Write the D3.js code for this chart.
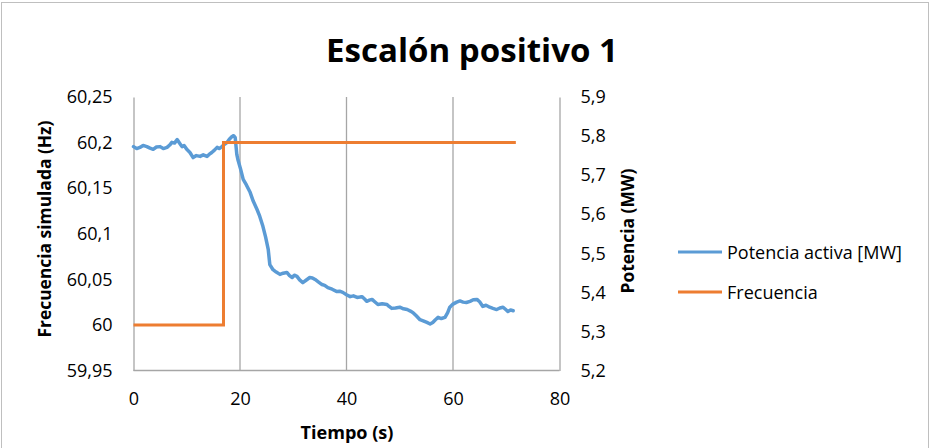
<!DOCTYPE html>
<html>
<head>
<meta charset="utf-8">
<script src="https://cdn.jsdelivr.net/npm/d3@7"></script>
<style>
  html, body { margin: 0; padding: 0; background: #fff; }
  svg { display: block; font-family: "Open Sans", "Noto Sans", sans-serif; }
</style>
</head>
<body>
<svg id="chart" width="931" height="448"></svg>
<script>
// ---- Data ----
const titleText = "Escalón positivo 1";
const xTicks = [0, 20, 40, 60, 80];
const freqTicks = [59.95, 60, 60.05, 60.1, 60.15, 60.2, 60.25];
const powerTicks = [5.2, 5.3, 5.4, 5.5, 5.6, 5.7, 5.8, 5.9];
const seriesNames = ["Potencia activa [MW]", "Frecuencia"];

// Frecuencia (Hz), left axis
const freqTime = [0, 16.9, 16.9, 71.8];
const freqValue = [60, 60, 60.2, 60.2];

// Potencia activa (MW), right axis
const powerTime = [0,0.6,1.2,1.8,2.5,3.1,3.7,4.3,5.0,5.6,6.3,6.8,7.2,7.7,8.2,8.6,9.1,9.5,10.0,10.6,
  11.2,11.8,12.5,13.1,13.8,14.2,14.7,15.2,15.7,16.1,16.6,17.1,17.6,18.0,18.5,18.8,19.1,19.4,19.6,20.1,
  20.6,21.2,21.9,22.5,23.2,23.7,24.3,24.8,25.3,25.6,26.2,26.8,27.5,28.1,28.8,29.3,29.8,30.2,30.7,31.2,
  31.8,32.4,33.1,33.6,34.1,34.7,35.4,35.9,36.5,37.3,38.2,38.7,39.3,40.0,40.7,41.3,42.0,42.5,42.9,43.4,
  43.8,44.3,44.8,45.3,45.9,46.7,47.6,48.0,48.5,49.2,50.0,50.7,51.4,52.0,52.5,53.1,53.8,54.4,55.1,55.7,
  56.2,56.7,57.2,57.8,58.5,59.0,59.4,60.0,60.7,61.3,61.9,62.5,63.2,63.8,64.5,65.0,65.6,66.2,66.9,67.5,
  68.2,68.8,69.4,69.9,70.3,70.8,71.3];
const powerValue = [5.773,5.768,5.771,5.776,5.773,5.769,5.766,5.772,5.773,5.768,5.771,5.777,5.784,5.782,5.791,5.783,5.773,5.776,5.766,5.758,
  5.745,5.750,5.748,5.752,5.748,5.753,5.758,5.764,5.771,5.768,5.773,5.779,5.784,5.792,5.799,5.801,5.796,5.753,5.740,5.716,
  5.689,5.675,5.656,5.633,5.612,5.595,5.569,5.542,5.510,5.471,5.458,5.452,5.446,5.449,5.451,5.443,5.438,5.444,5.441,5.432,
  5.425,5.431,5.438,5.437,5.433,5.427,5.420,5.418,5.412,5.408,5.402,5.403,5.400,5.394,5.389,5.391,5.387,5.388,5.389,5.383,
  5.377,5.380,5.382,5.376,5.369,5.371,5.369,5.364,5.359,5.360,5.362,5.358,5.356,5.352,5.348,5.340,5.330,5.327,5.323,5.319,
  5.323,5.330,5.336,5.333,5.336,5.348,5.362,5.370,5.375,5.378,5.375,5.374,5.377,5.381,5.382,5.376,5.364,5.367,5.362,5.359,
  5.356,5.360,5.362,5.356,5.351,5.355,5.353];

// ---- Drawing ----
const svg = d3.select("#chart");
const blue = "#5B9BD5", orange = "#ED7D31", gridCol = "#A6A6A6", textCol = "#000";
const fmt = d => String(d).replace(".", ",");

const plot = { left: 133.5, right: 559.5, top: 97, bottom: 370.5 };
const x = d3.scaleLinear().domain([0, 80]).range([plot.left, plot.right]);
const yL = d3.scaleLinear().domain([59.95, 60.25]).range([plot.bottom, plot.top]);
const yR = d3.scaleLinear().domain([5.2, 5.9]).range([plot.bottom, plot.top]);

// chart border
svg.append("rect").attr("x", 1.5).attr("y", 2.5).attr("width", 927).attr("height", 460)
  .attr("fill", "none").attr("stroke", "#BFBFBF").attr("stroke-width", 1);

// title
svg.append("text").attr("x", 472).attr("y", 62).attr("text-anchor", "middle")
  .attr("font-size", 32).attr("font-weight", "bold").attr("fill", textCol)
  .attr("textLength", 292).attr("lengthAdjust", "spacingAndGlyphs").text(titleText);

// vertical gridlines
svg.append("g").selectAll("line").data(xTicks.filter(d => d > 0 && d < 80)).join("line")
  .attr("x1", d => x(d)).attr("x2", d => x(d)).attr("y1", plot.top).attr("y2", plot.bottom)
  .attr("stroke", gridCol).attr("stroke-width", 1.3);

// axes via d3 axis generators
const xAxis = svg.append("g").attr("transform", `translate(0,${plot.bottom})`)
  .call(d3.axisBottom(x).tickValues(xTicks).tickSize(0).tickPadding(22).tickFormat(fmt));
const leftAxis = svg.append("g").attr("transform", `translate(${plot.left},0)`)
  .call(d3.axisLeft(yL).tickValues(freqTicks).tickSize(0).tickPadding(21).tickFormat(fmt));
const rightAxis = svg.append("g").attr("transform", `translate(${plot.right},0)`)
  .call(d3.axisRight(yR).tickValues(powerTicks).tickSize(0).tickPadding(21).tickFormat(fmt));

[xAxis, leftAxis, rightAxis].forEach(g => {
  g.select(".domain").attr("stroke", gridCol).attr("stroke-width", 1.3);
  g.selectAll("text").attr("font-size", 18).attr("fill", textCol)
    .attr("font-family", "'Open Sans', sans-serif");
});
xAxis.select(".domain").attr("d", `M${plot.left},0H${plot.right}`);

// axis titles
svg.append("text").attr("transform", `translate(51,229) rotate(-90)`).attr("text-anchor", "middle")
  .attr("font-size", 17).attr("font-weight", "bold").attr("fill", textCol)
  .attr("textLength", 217).attr("lengthAdjust", "spacingAndGlyphs").text("Frecuencia simulada (Hz)");
svg.append("text").attr("transform", `translate(634,231) rotate(-90)`).attr("text-anchor", "middle")
  .attr("font-size", 17).attr("font-weight", "bold").attr("fill", textCol)
  .attr("textLength", 125).attr("lengthAdjust", "spacingAndGlyphs").text("Potencia (MW)");
svg.append("text").attr("x", 347).attr("y", 439).attr("text-anchor", "middle")
  .attr("font-size", 17).attr("font-weight", "bold").attr("fill", textCol)
  .attr("textLength", 93).attr("lengthAdjust", "spacingAndGlyphs").text("Tiempo (s)");

// series lines
const powerData = powerTime.map((t, i) => [t, powerValue[i]]);
const freqData = freqTime.map((t, i) => [t, freqValue[i]]);
svg.append("path").datum(powerData)
  .attr("d", d3.line().x(d => x(d[0])).y(d => yR(d[1])))
  .attr("fill", "none").attr("stroke", blue).attr("stroke-width", 3.5)
  .attr("stroke-linejoin", "round").attr("stroke-linecap", "round");
svg.append("path").datum(freqData)
  .attr("d", d3.line().x(d => x(d[0])).y(d => yL(d[1])))
  .attr("fill", "none").attr("stroke", orange).attr("stroke-width", 3)
  .attr("stroke-linejoin", "miter");

// legend
const legendY = [252, 292];
const legendColors = [blue, orange];
const lg = svg.append("g");
seriesNames.forEach((name, i) => {
  lg.append("line").attr("x1", 678).attr("x2", 722).attr("y1", legendY[i]).attr("y2", legendY[i])
    .attr("stroke", legendColors[i]).attr("stroke-width", 3);
  lg.append("text").attr("x", 727).attr("y", legendY[i] + 6.5).attr("font-size", 18)
    .attr("fill", textCol).text(name);
});
</script>
</body>
</html>
